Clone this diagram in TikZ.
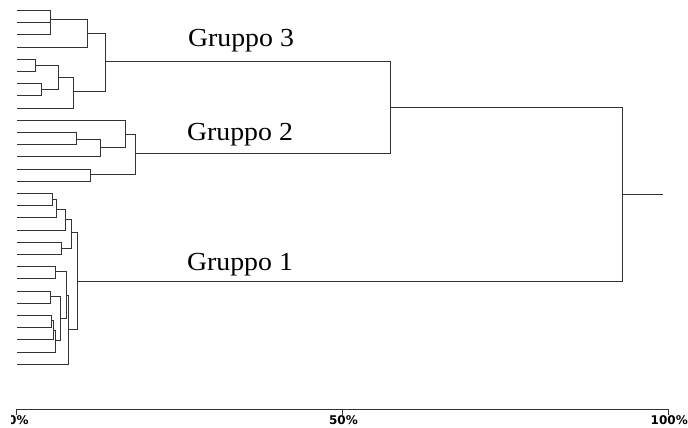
\documentclass[tikz,border=0pt]{standalone}
\usepackage{fontspec}
\setmainfont{Liberation Serif}
\newfontfamily\axisfont{DejaVu Sans}
\begin{document}
\begin{tikzpicture}[x=1pt,y=-1pt,
  link/.style={draw=black!80,line width=1.4pt},
  axisline/.style={draw=black!80,line width=1.4pt},
  grouplabel/.style={anchor=base,inner sep=0pt,font=\fontsize{26}{30}\selectfont},
  ticklabel/.style={inner sep=0pt,font=\axisfont\bfseries\fontsize{12}{14}\selectfont}]
\useasboundingbox (0,0) rectangle (688,428);

% leaves (left ends of the branches), kept on pixel centres
\foreach \i in {1,...,30}
  \coordinate (L\i) at (16.5,{round(10+12.2*(\i-1))+0.5});

% group 3 merges
\coordinate (a1) at (50.5,19.5);
\coordinate (a2) at (87.5,33.5);
\coordinate (b1) at (35.5,65.5);
\coordinate (b2) at (41.5,89.5);
\coordinate (b3) at (58.5,77.5);
\coordinate (b4) at (73.5,91.5);
\coordinate (g3) at (105.5,61.5);
% group 2 merges
\coordinate (c1) at (76.5,139.5);
\coordinate (c2) at (100.5,147.5);
\coordinate (c3) at (125.5,134.5);
\coordinate (c4) at (90.5,174.5);
\coordinate (g2) at (135.5,153.5);
% group 1 merges
\coordinate (d1) at (52.5,199.5);
\coordinate (d2) at (56.5,209.5);
\coordinate (d3) at (65.5,219.5);
\coordinate (d4) at (61.5,248.5);
\coordinate (d5) at (71.5,232.5);
\coordinate (e1) at (55.5,271.5);
\coordinate (f1) at (50.5,296.5);
\coordinate (f2) at (51.5,320.5);
\coordinate (f3) at (53.5,330.5);
\coordinate (f4) at (55.5,340.5);
\coordinate (f5) at (60.5,318.5);
\coordinate (e2) at (66.5,295.5);
\coordinate (e3) at (68.5,329.5);
\coordinate (g1) at (77.5,281.5);
% upper levels
\coordinate (g23) at (390.5,107.5);
\coordinate (root) at (622.5,194.5);
\coordinate (stub) at (662.5,194.5);

% group 3
\draw[link] (L1) -| (a1) |- (L3);
\draw[link] (L2) -- (L2 -| a1);
\draw[link] (a1) -| (a2) |- (L4);
\draw[link] (L5) -| (b1) |- (L6);
\draw[link] (L7) -| (b2) |- (L8);
\draw[link] (b1) -| (b3) |- (b2);
\draw[link] (b3) -| (b4) |- (L9);
\draw[link] (a2) -| (g3) |- (b4);
% group 2
\draw[link] (L11) -| (c1) |- (L12);
\draw[link] (c1) -| (c2) |- (L13);
\draw[link] (L10) -| (c3) |- (c2);
\draw[link] (L14) -| (c4) |- (L15);
\draw[link] (c3) -| (g2) |- (c4);
% group 1
\draw[link] (L16) -| (d1) |- (L17);
\draw[link] (d1) -| (d2) |- (L18);
\draw[link] (d2) -| (d3) |- (L19);
\draw[link] (L20) -| (d4) |- (L21);
\draw[link] (d3) -| (d5) |- (d4);
\draw[link] (L22) -| (e1) |- (L23);
\draw[link] (L24) -| (f1) |- (L25);
\draw[link] (L26) -| (f2) |- (L27);
\draw[link] (f2) -| (f3) |- (L28);
\draw[link] (f3) -| (f4) |- (L29);
\draw[link] (f1) -| (f5) |- (f4);
\draw[link] (e1) -| (e2) |- (f5);
\draw[link] (e2) -| (e3) |- (L30);
\draw[link] (d5) -| (g1) |- (e3);
% top of the tree
\draw[link] (g3) -| (g23) |- (g2);
\draw[link] (g23) -| (root) |- (g1);
\draw[link] (root) -- (stub);

% group labels
\node[grouplabel] (t3) at (241,46.7) {\scalebox{1.07}[1]{Gruppo 3}};
\node[grouplabel] (t2) at (240,140.7) {\scalebox{1.07}[1]{Gruppo 2}};
\node[grouplabel] (t1) at (240,270) {\scalebox{1.07}[1]{Gruppo 1}};

% percentage axis
\coordinate (x0) at (16.5,409.5);
\coordinate (x50) at (342.5,409.5);
\coordinate (x100) at (668.5,409.5);
\draw[axisline] (x0) ++(0,5) -- (x0) -- (x100) -- ++(0,5);
\draw[axisline] (x50) -- ++(0,5);
\begin{scope}
  \clip (11.5,410) rectangle (60,428);
  \node[ticklabel,anchor=base west] (p0) at (8,424.3) {0\%};
\end{scope}
\node[ticklabel,anchor=base] (p50) at (343.5,424.3) {50\%};
\node[ticklabel,anchor=base east] (p100) at (688,424.3) {100\%};
\end{tikzpicture}
\end{document}
